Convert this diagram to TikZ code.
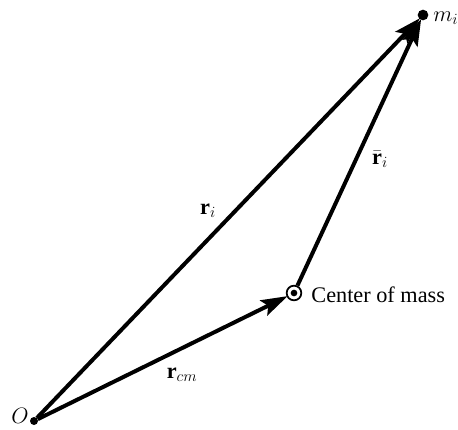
\RequirePackage{fix-cm}
\documentclass[tikz,border=0pt]{standalone}
\usepackage{amsmath,amssymb}
\usepackage{fontspec}
\setmainfont{Liberation Serif}
\usetikzlibrary{positioning,arrows.meta,calc}
\tikzset{
  pointdot/.style={circle,fill=black,inner sep=0pt,minimum size=#1},
  cmring/.style={circle,draw=black,line width=1.5pt,fill=white,inner sep=0pt,minimum size=0.44cm},
  vecarrow/.style={-{Stealth[length=8mm,width=5mm,inset=1.5mm]},line width=3.4pt,shorten >=-1pt},
  veclabel/.style={font=\fontsize{19}{22}\selectfont,inner sep=1pt},
}

\begin{document}
\begin{tikzpicture}[x=0.03cm,y=-0.03cm]
\useasboundingbox (0,0) rectangle (458,429);

% points
\node[pointdot=0.24cm] (O) at (34,421) {};
\node[pointdot=0.32cm] (mi) at (423,15) {};
\node[cmring] (cm) at (294,293) {};
\node[pointdot=0.2cm] (cmdot) at (cm.center) {};

% labels
\node[veclabel] (Olabel) at (20,416) {$O$};
\node[veclabel,anchor=west] (milabel) at (432,18) {$m_i$};
\node[veclabel,anchor=west] (cmlabel) at (310,295) {Center of mass};

% vectors
\draw[vecarrow] (O) -- (mi);
\draw[vecarrow] (O) -- (cm);
\draw[vecarrow] (cm) -- (mi);

\node[veclabel] (rilabel) at (208,211) {$\mathbf{r}_i$};
\node[veclabel] (rbarlabel) at (380,159) {$\bar{\mathbf{r}}_i$};
\node[veclabel] (rcmlabel) at (182,375) {$\mathbf{r}_{cm}$};

\end{tikzpicture}
\end{document}
